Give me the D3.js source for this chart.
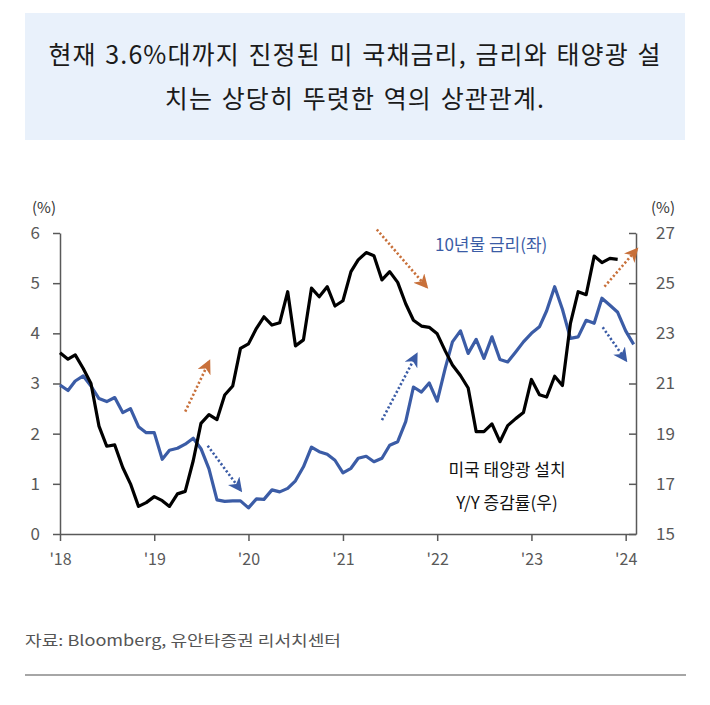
<!DOCTYPE html>
<html>
<head>
<meta charset="utf-8">
<script src="https://cdn.jsdelivr.net/npm/d3@7"></script>
<style>
  html, body { margin: 0; padding: 0; background: #fff; }
  svg { display: block; }
  text { font-family: "Noto Sans CJK KR", "Noto Sans", sans-serif; }
</style>
</head>
<body>
<svg id="chart" width="710" height="705"></svg>
<script>
// ---------------- data ----------------
const titleLines = ["현재 3.6%대까지 진정된 미 국채금리, 금리와 태양광 설", "치는 상당히 뚜렷한 역의 상관관계."];
const sourceText = "자료: Bloomberg, 유안타증권 리서치센터";

const yieldStart = "2018-01";   // monthly, 10Y treasury yield (left axis, %)
const yieldValues = [
  2.97, 2.86, 3.05, 3.15, 2.95, 2.70, 2.64, 2.72, 2.42, 2.50, 2.14, 2.02,
  2.02, 1.49, 1.67, 1.71, 1.79, 1.91, 1.70, 1.30, 0.68, 0.65, 0.66, 0.66,
  0.52, 0.70, 0.69, 0.88, 0.84, 0.91, 1.06, 1.34, 1.73, 1.64, 1.59, 1.47,
  1.22, 1.31, 1.51, 1.55, 1.44, 1.51, 1.77, 1.84, 2.24, 2.93, 2.83, 3.01,
  2.65, 3.30, 3.83, 4.05, 3.60, 3.88, 3.50, 3.93, 3.48, 3.43, 3.63, 3.83,
  4.00, 4.13, 4.45, 4.93, 4.48, 3.90, 3.93, 4.26, 4.20, 4.70, 4.56, 4.42,
  4.05, 3.78
];

const solarStart = "2018-01";   // monthly, US solar installations Y/Y (right axis, %)
const solarValues = [
  22.23, 21.97, 22.14, 21.60, 21.00, 19.30, 18.50, 18.55, 17.65, 17.00, 16.10, 16.25,
  16.49, 16.33, 16.10, 16.60, 16.70, 17.92, 19.41, 19.76, 19.56, 20.54, 20.90, 22.40,
  22.58, 23.20, 23.66, 23.33, 23.42, 24.66, 22.50, 22.74, 24.80, 24.46, 24.86, 24.09,
  24.30, 25.46, 25.93, 26.22, 26.09, 25.13, 25.46, 25.03, 24.18, 23.52, 23.29, 23.24,
  22.98, 22.30, 21.74, 21.32, 20.82, 19.08, 19.08, 19.39, 18.68, 19.32, 19.60, 19.84,
  21.16, 20.55, 20.46, 21.29, 20.92, 23.40, 24.66, 24.54, 26.08, 25.82, 25.99, 25.95
];

const leftTicks = [0, 1, 2, 3, 4, 5, 6];
const rightTicks = [15, 17, 19, 21, 23, 25, 27];
const xTickYears = [2018, 2019, 2020, 2021, 2022, 2023, 2024];
const xTickLabels = ["'18", "'19", "'20", "'21", "'22", "'23", "'24"];

// trend arrows (in left-axis units)
const arrowFrom = [["2019-05-01", 2.44], ["2019-07-27", 1.76], ["2021-05-12", 6.07], ["2021-06-01", 2.27], ["2023-10-11", 4.93], ["2023-10-04", 4.12]];
const arrowTo   = [["2019-08-01", 3.43], ["2019-12-01", 0.88], ["2021-11-20", 4.93], ["2021-10-12", 3.57], ["2024-02-12", 5.67], ["2024-01-01", 3.47]];
const arrowKind = ["orange", "blue", "orange", "blue", "orange", "blue"];

const yieldLabel = "10년물 금리(좌)";
const solarLabel = ["미국 태양광 설치", "Y/Y 증감률(우)"];

// ---------------- build ----------------
const BLUE = "#3b5ca6", ORANGE = "#c8703a", AXIS = "#595959";
const parseMonth = d3.timeParse("%Y-%m");
const parseDay = d3.timeParse("%Y-%m-%d");
const monthly = (start, vals) => vals.map((v, i) => ({ date: d3.timeMonth.offset(parseMonth(start), i), value: v }));
const yieldData = monthly(yieldStart, yieldValues);
const solarData = monthly(solarStart, solarValues);

const svg = d3.select("#chart");
const L = 60, R = 636, T = 233, B = 534;

const x = d3.scaleTime().domain([new Date(2018, 0, 1), new Date(2024, 1, 10)]).range([L, R]);
const yL = d3.scaleLinear().domain([0, 6]).range([B, T]);
const yR = d3.scaleLinear().domain([15, 27]).range([B, T]);

// title box
svg.append("rect").attr("x", 25).attr("y", 13).attr("width", 660).attr("height", 127).attr("fill", "#e9f1fb");
svg.selectAll("text.title").data(titleLines).join("text")
  .attr("class", "title")
  .attr("x", 355).attr("y", (d, i) => 64 + i * 44)
  .attr("text-anchor", "middle")
  .attr("font-size", 25).attr("letter-spacing", 1.1).attr("word-spacing", 2).attr("fill", "#1a1a1a")
  .text(d => d);

// axes
const axisStyle = g => {
  g.selectAll(".domain").attr("stroke", AXIS).attr("stroke-width", 1.5);
  g.selectAll(".tick line").attr("stroke", AXIS).attr("stroke-width", 1.5);
  g.selectAll(".tick text").attr("fill", AXIS).attr("font-family", "'Noto Sans CJK KR', sans-serif");
};

svg.append("g").attr("transform", `translate(${L},0)`)
  .call(d3.axisLeft(yL).tickValues(leftTicks).tickFormat(d3.format("d")).tickSize(7).tickSizeOuter(0).tickPadding(13))
  .call(axisStyle)
  .call(g => g.selectAll(".tick text").attr("font-size", 17));

svg.append("g").attr("transform", `translate(${R},0)`)
  .call(d3.axisRight(yR).tickValues(rightTicks).tickFormat(d3.format("d")).tickSize(-7).tickSizeOuter(0).tickPadding(20))
  .call(axisStyle)
  .call(g => g.selectAll(".tick text").attr("font-size", 17));

svg.append("g").attr("transform", `translate(0,${B})`)
  .call(d3.axisBottom(x).tickValues(xTickYears.map(yr => new Date(yr, 0, 1)))
    .tickFormat((d, i) => xTickLabels[i]).tickSize(7).tickSizeOuter(0).tickPadding(13))
  .call(axisStyle)
  .call(g => g.selectAll(".tick text").attr("font-size", 16));

// unit labels
svg.append("text").attr("x", 44).attr("y", 213).attr("text-anchor", "middle").attr("font-size", 15).attr("fill", "#333").text("(%)");
svg.append("text").attr("x", 663).attr("y", 213).attr("text-anchor", "middle").attr("font-size", 15).attr("fill", "#333").text("(%)");

// lines
const lineL = d3.line().x(d => x(d.date)).y(d => yL(d.value));
const lineR = d3.line().x(d => x(d.date)).y(d => yR(d.value));

svg.append("path").datum(yieldData).attr("d", lineL)
  .attr("fill", "none").attr("stroke", BLUE).attr("stroke-width", 3.2).attr("stroke-linejoin", "round");
svg.append("path").datum(solarData).attr("d", lineR)
  .attr("fill", "none").attr("stroke", "#000").attr("stroke-width", 3.2).attr("stroke-linejoin", "round");

// arrow markers
const defs = svg.append("defs");
[["orange", ORANGE], ["blue", BLUE]].forEach(([k, c]) => {
  defs.append("marker").attr("id", "head-" + k)
    .attr("viewBox", "0 0 10 10").attr("refX", 8).attr("refY", 5)
    .attr("markerWidth", 5.5).attr("markerHeight", 5.5).attr("markerUnits", "strokeWidth")
    .attr("orient", "auto")
    .append("path").attr("d", "M0,0 L10,5 L0,10 L3,5 Z").attr("fill", c);
});

const arrows = arrowFrom.map((f, i) => ({ x1: x(parseDay(f[0])), y1: yL(f[1]), x2: x(parseDay(arrowTo[i][0])), y2: yL(arrowTo[i][1]), kind: arrowKind[i] }));
svg.selectAll("line.arrow").data(arrows).join("line")
  .attr("class", "arrow")
  .attr("x1", d => d.x1).attr("y1", d => d.y1).attr("x2", d => d.x2).attr("y2", d => d.y2)
  .attr("stroke", d => d.kind === "orange" ? ORANGE : BLUE)
  .attr("stroke-width", 2.6).attr("stroke-dasharray", "2.2,2.2")
  .attr("marker-end", d => `url(#head-${d.kind})`);

// series labels
svg.append("text").attr("x", 435).attr("y", 251).attr("font-size", 17).attr("fill", BLUE).text(yieldLabel);
svg.selectAll("text.solar").data(solarLabel).join("text")
  .attr("class", "solar")
  .attr("x", 507).attr("y", (d, i) => 476 + i * 33)
  .attr("text-anchor", "middle").attr("font-size", 17).attr("fill", "#111")
  .text(d => d);

// source + rule
svg.append("text").attr("x", 25).attr("y", 646).attr("font-size", 15).attr("fill", "#555")
  .attr("textLength", 316).attr("lengthAdjust", "spacingAndGlyphs").text(sourceText);
svg.append("line").attr("x1", 25).attr("x2", 686).attr("y1", 675).attr("y2", 675)
  .attr("stroke", "#a6a6a6").attr("stroke-width", 2);
</script>
</body>
</html>
